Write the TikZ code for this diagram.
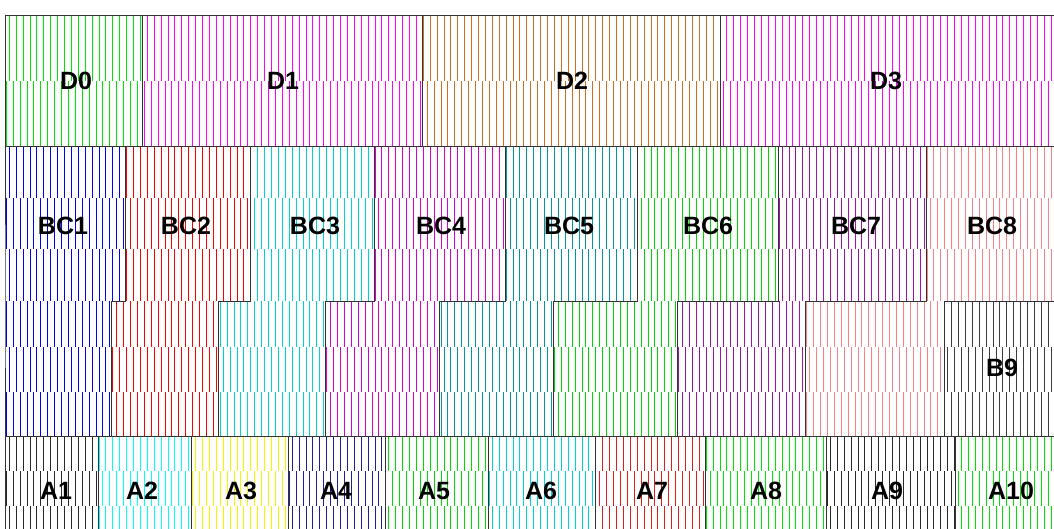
\documentclass[tikz,border=0pt]{standalone}
\usepackage{fontspec}
\setmainfont{Liberation Sans}
\definecolor{cD0}{RGB}{0,230,0}
\definecolor{cD1}{RGB}{255,0,255}
\definecolor{cD2}{RGB}{210,110,30}
\definecolor{cD3}{RGB}{255,0,255}
\definecolor{cBC1}{RGB}{0,0,255}
\definecolor{cBC2}{RGB}{255,0,0}
\definecolor{cBC3}{RGB}{0,210,210}
\definecolor{cBC4}{RGB}{215,0,215}
\definecolor{cBC5}{RGB}{0,150,160}
\definecolor{cBC6}{RGB}{0,215,0}
\definecolor{cBC7}{RGB}{160,20,170}
\definecolor{cBC8}{RGB}{250,130,130}
\definecolor{cB9}{RGB}{60,60,60}
\definecolor{cA1}{RGB}{40,40,40}
\definecolor{cA2}{RGB}{0,255,255}
\definecolor{cA3}{RGB}{245,245,0}
\definecolor{cA4}{RGB}{30,30,150}
\definecolor{cA5}{RGB}{0,220,0}
\definecolor{cA6}{RGB}{0,210,220}
\definecolor{cA7}{RGB}{225,30,30}
\definecolor{cA8}{RGB}{0,230,0}
\definecolor{cA9}{RGB}{40,40,40}
\definecolor{cA10}{RGB}{0,225,0}
\tikzset{
  hatchline/.style={line width=1pt},
  regionborder/.style={draw=black!80, line width=1pt, line join=miter},
  lbl/.style={font=\fontsize{25}{25}\selectfont\bfseries, text=black, inner sep=0pt}
}
% color, x1, x2, y1, y2, phase
\newcommand{\hband}[6]{%
  \pgfmathtruncatemacro\hka{ceil((#2-#6)/6.9)}%
  \pgfmathtruncatemacro\hkb{floor((#3-#6)/6.9)}%
  \foreach \k in {\hka,...,\hkb}{\draw[hatchline,#1] ({#6+6.9*\k},#4) -- ({#6+6.9*\k},#5);}%
}
% D row region: color, x1, x2
\newcommand{\dhatch}[3]{%
  \hband{#1}{#2}{#3}{15}{81}{2.4}\hband{#1}{#2}{#3}{81}{146}{6.3}}
% BC region: color, upper x1, upper x2, lower x1, lower x2
\newcommand{\bchatch}[5]{%
  \hband{#1}{#2}{#3}{146}{198}{2.4}\hband{#1}{#2}{#3}{198}{249}{6.3}\hband{#1}{#2}{#3}{249}{301}{2.4}%
  \hband{#1}{#4}{#5}{301}{347}{6.3}\hband{#1}{#4}{#5}{347}{392}{2.4}\hband{#1}{#4}{#5}{392}{436}{6.3}}
\newcommand{\bcborder}[4]{%
  \draw[regionborder] (#1,146) -- (#2,146) -- (#2,301) -- (#4,301) -- (#4,436) -- (#3,436) -- (#3,301) -- (#1,301) -- cycle;}
% A row region: color, x1, x2
\newcommand{\ahatch}[3]{%
  \hband{#1}{#2}{#3}{436}{471}{2.4}\hband{#1}{#2}{#3}{471}{506}{6.3}\hband{#1}{#2}{#3}{506}{546}{2.4}}
\begin{document}
\begin{tikzpicture}[x=1pt,y=-1pt]
\useasboundingbox (0,0) rectangle (1054,528);
\fill[white] (0,0) rectangle (1054,528);
\clip (0,0) rectangle (1054,528);
% ---- hatching ----
\dhatch{cD0}{5}{142}
\dhatch{cD1}{142}{422}
\dhatch{cD2}{422}{720}
\dhatch{cD3}{720}{1062}
\bchatch{cBC1}{5}{125}{5}{111}
\bchatch{cBC2}{125}{250}{111}{218}
\bchatch{cBC3}{250}{374}{218}{325}
\bchatch{cBC4}{374}{505}{325}{439}
\bchatch{cBC5}{505}{637}{439}{553}
\bchatch{cBC6}{637}{778}{553}{677}
\bchatch{cBC7}{778}{926}{677}{805}
\bchatch{cBC8}{926}{1062}{805}{944}
\hband{cB9}{944}{1062}{301}{347}{6.3}
\hband{cB9}{944}{1062}{347}{392}{2.4}
\hband{cB9}{944}{1062}{392}{436}{6.3}
\ahatch{cA1}{5}{98}
\ahatch{cA2}{98}{191}
\ahatch{cA3}{191}{288}
\ahatch{cA4}{288}{385}
\ahatch{cA5}{385}{488}
\ahatch{cA6}{488}{595}
\ahatch{cA7}{595}{705}
\ahatch{cA8}{705}{826}
\ahatch{cA9}{826}{955}
\ahatch{cA10}{955}{1062}
% ---- borders ----
\draw[regionborder] (5,15) rectangle (142,146);
\draw[regionborder] (142,15) rectangle (422,146);
\draw[regionborder] (422,15) rectangle (720,146);
\draw[regionborder] (720,15) rectangle (1062,146);
\bcborder{5}{125}{5}{111}
\bcborder{125}{250}{111}{218}
\bcborder{250}{374}{218}{325}
\bcborder{374}{505}{325}{439}
\bcborder{505}{637}{439}{553}
\bcborder{637}{778}{553}{677}
\bcborder{778}{926}{677}{805}
\bcborder{926}{1062}{805}{944}
\draw[regionborder] (944,301) rectangle (1062,436);
\draw[regionborder] (5,436) rectangle (98,546);
\draw[regionborder] (98,436) rectangle (191,546);
\draw[regionborder] (191,436) rectangle (288,546);
\draw[regionborder] (288,436) rectangle (385,546);
\draw[regionborder] (385,436) rectangle (488,546);
\draw[regionborder] (488,436) rectangle (595,546);
\draw[regionborder] (595,436) rectangle (705,546);
\draw[regionborder] (705,436) rectangle (826,546);
\draw[regionborder] (826,436) rectangle (955,546);
\draw[regionborder] (955,436) rectangle (1062,546);
% ---- labels ----
\node[lbl] (D0) at (76,81) {D0};
\node[lbl] (D1) at (283,81) {D1};
\node[lbl] (D2) at (572,81) {D2};
\node[lbl] (D3) at (886,81) {D3};
\node[lbl] (BC1) at (63,226) {BC1};
\node[lbl] (BC2) at (186,226) {BC2};
\node[lbl] (BC3) at (315,226) {BC3};
\node[lbl] (BC4) at (441,226) {BC4};
\node[lbl] (BC5) at (569,226) {BC5};
\node[lbl] (BC6) at (708,226) {BC6};
\node[lbl] (BC7) at (856,226) {BC7};
\node[lbl] (BC8) at (992,226) {BC8};
\node[lbl] (B9) at (1002,368) {B9};
\node[lbl] (A1) at (56,491) {A1};
\node[lbl] (A2) at (142,491) {A2};
\node[lbl] (A3) at (241,491) {A3};
\node[lbl] (A4) at (336,491) {A4};
\node[lbl] (A5) at (434,491) {A5};
\node[lbl] (A6) at (541,491) {A6};
\node[lbl] (A7) at (652,491) {A7};
\node[lbl] (A8) at (766,491) {A8};
\node[lbl] (A9) at (887,491) {A9};
\node[lbl] (A10) at (1011,491) {A10};
\end{tikzpicture}
\end{document}
